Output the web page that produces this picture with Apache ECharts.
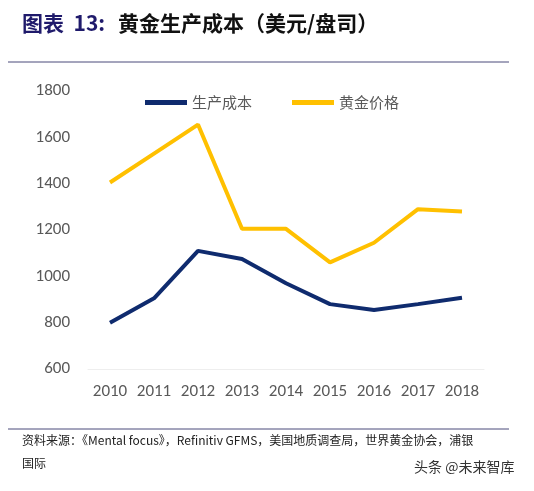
<!DOCTYPE html><html><head><meta charset="utf-8"><script src="https://cdn.jsdelivr.net/npm/echarts@6/dist/echarts.min.js"></script></head><body style="margin:0;background:#fff"><div id="c" style="width:534px;height:491px"></div><script>
var years=['2010','2011','2012','2013','2014','2015','2016','2017','2018'];
var cost=[800,905,1110,1075,970,880,855,880,908];
var gold=[1405,1530,1655,1205,1205,1060,1145,1290,1280];
var c=echarts.init(document.getElementById('c'));
var F='"Noto Sans CJK SC"';
c.setOption({animation:false,
grid:{left:88,right:50,top:91,bottom:122},
legend:{top:90,left:140,itemWidth:42,itemHeight:5,itemGap:40,icon:'rect',textStyle:{fontSize:15,color:'#595959',fontFamily:F},data:['生产成本','黄金价格']},
xAxis:{type:'category',data:years,axisTick:{show:false},axisLine:{lineStyle:{color:'#eeeeee'}},axisLabel:{interval:0,fontSize:17,color:'#595959',margin:14,fontFamily:'Carlito, "Open Sans"'}},
yAxis:{type:'value',min:600,max:1800,interval:200,splitLine:{show:false},axisLabel:{fontSize:17,color:'#595959',margin:18,fontFamily:'Carlito, "Open Sans"',formatter:function(v){return String(v);}}},
series:[{name:'生产成本',type:'line',data:cost,symbol:'none',lineStyle:{width:4,color:'#0f2b6e'},itemStyle:{color:'#0f2b6e'}},
{name:'黄金价格',type:'line',data:gold,symbol:'none',lineStyle:{width:4,color:'#ffc000'},itemStyle:{color:'#ffc000'}}],
graphic:[
{type:'text',left:22,top:13,style:{text:'图表  13:',font:'bold 21px '+F,fill:'#1f1a6b'}},
{type:'text',left:118,top:13,style:{text:'黄金生产成本（美元/盘司）',font:'bold 21px '+F,fill:'#111'}},
{type:'line',shape:{x1:8,y1:62,x2:509,y2:62},style:{stroke:'#4a4a7a',lineWidth:1}},
{type:'line',shape:{x1:8,y1:429,x2:509,y2:429},style:{stroke:'#4a4a7a',lineWidth:1}},
{type:'text',left:22,top:434,style:{text:'资料来源：《Mental focus》，Refinitiv GFMS，美国地质调查局，世界黄金协会，浦银',font:'12px '+F,fill:'#222'}},
{type:'text',left:22,top:457,style:{text:'国际',font:'12px '+F,fill:'#222'}},
{type:'text',left:414,top:460,style:{text:'头条 @未来智库',font:'14px '+F,fill:'#333'}}
]});
</script></body></html>
